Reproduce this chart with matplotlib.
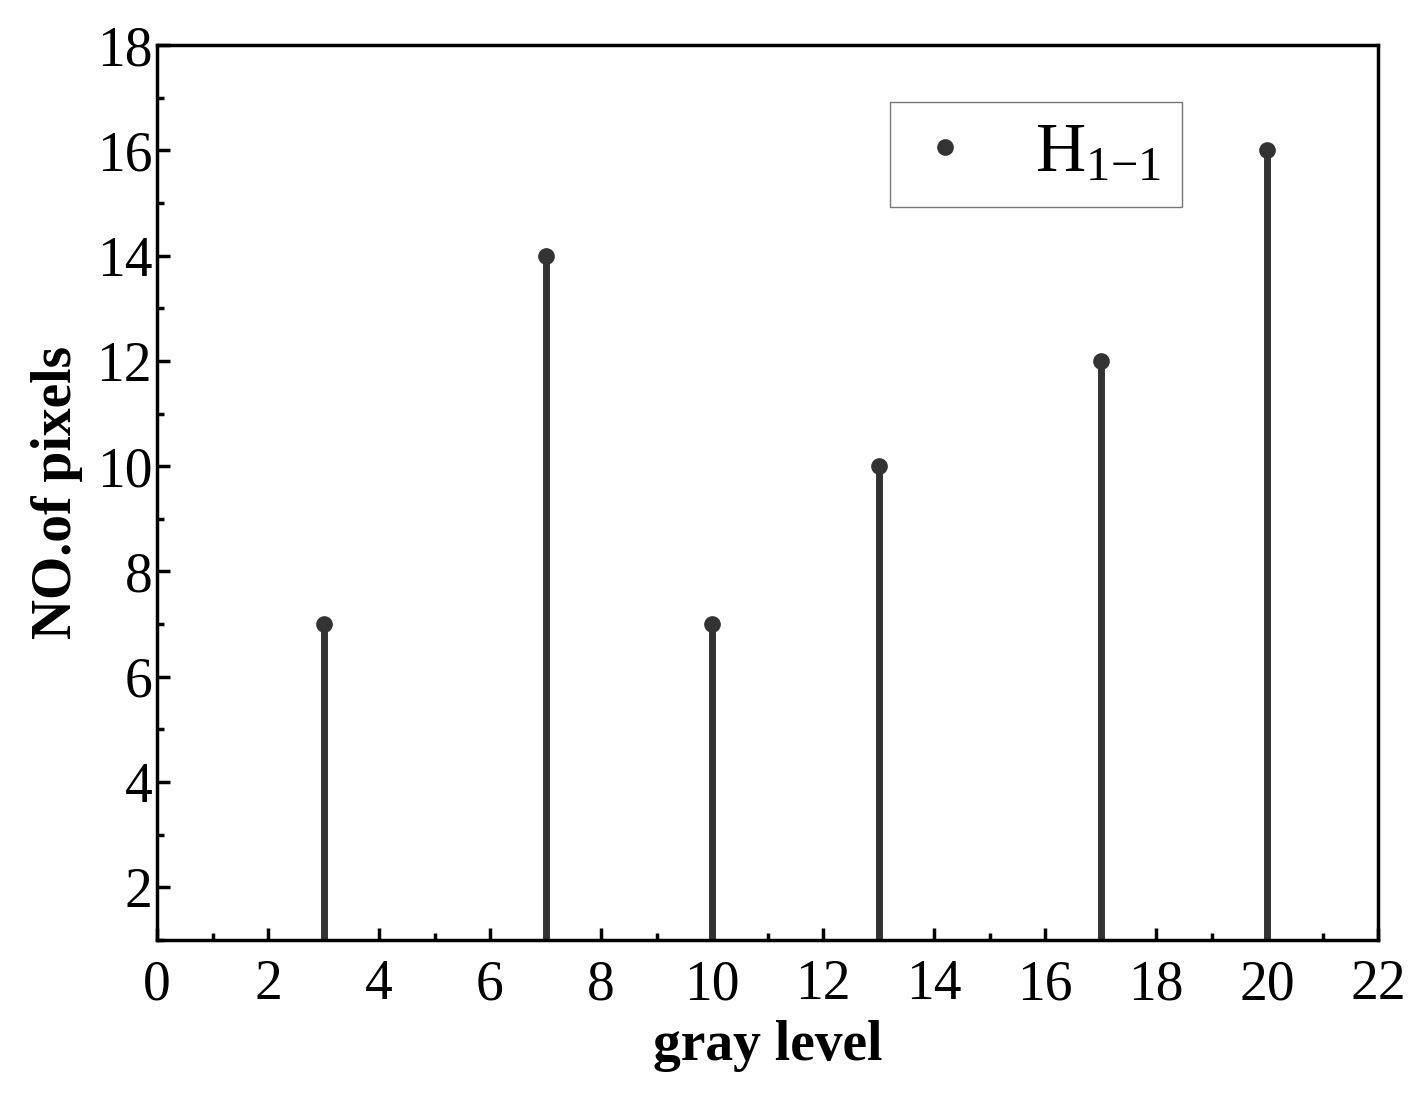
import matplotlib
matplotlib.use("Agg")
import matplotlib.pyplot as plt
from matplotlib.ticker import MultipleLocator
from matplotlib.lines import Line2D

gray_levels = [3, 7, 10, 13, 17, 20]
pixel_counts = [7, 14, 7, 10, 12, 16]
series_label = r"H$_{1\mathrm{-}1}$"

plt.rcParams['font.family'] = ['Liberation Serif', 'DejaVu Serif']
plt.rcParams['mathtext.fontset'] = 'custom'
plt.rcParams['mathtext.rm'] = 'Liberation Serif'
plt.rcParams['mathtext.it'] = 'Liberation Serif'
fig = plt.figure(figsize=(14.14, 11.09), dpi=100)
ax = fig.add_axes([157/1414, 1-940/1109, (1378-157)/1414, (940-45)/1109])
ml, sl, bl = ax.stem(gray_levels, pixel_counts, bottom=1, basefmt=' ')
plt.setp(sl, color='#333333', linewidth=5)
plt.setp(ml, color='#333333', markersize=11)
ax.set_xlim(0, 22)
ax.set_ylim(1, 18)
ax.xaxis.set_major_locator(MultipleLocator(2))
ax.xaxis.set_minor_locator(MultipleLocator(1))
ax.yaxis.set_major_locator(MultipleLocator(2))
ax.yaxis.set_minor_locator(MultipleLocator(1))
ax.tick_params(which='both', direction='in', labelsize=40, width=2.5, top=False)
ax.tick_params(which='major', length=9)
ax.tick_params(which='minor', length=5)
ax.tick_params(axis='x', pad=14)
for s in ax.spines.values():
    s.set_linewidth(2.5)
ax.set_xlabel('gray level', fontsize=40, fontweight='bold', labelpad=6)
ax.set_ylabel('NO.of pixels', fontsize=40, fontweight='bold', labelpad=10)
handle = Line2D([], [], marker='o', linestyle='none', color='#333333', markersize=11)
ax.legend([handle], [series_label], loc='upper right', fontsize=50, handlelength=1,
          fancybox=False, edgecolor='#555555', borderpad=0.3, handletextpad=0.8,
          bbox_to_anchor=(0.868, 0.975))
fig.savefig('out.png', dpi=100)
